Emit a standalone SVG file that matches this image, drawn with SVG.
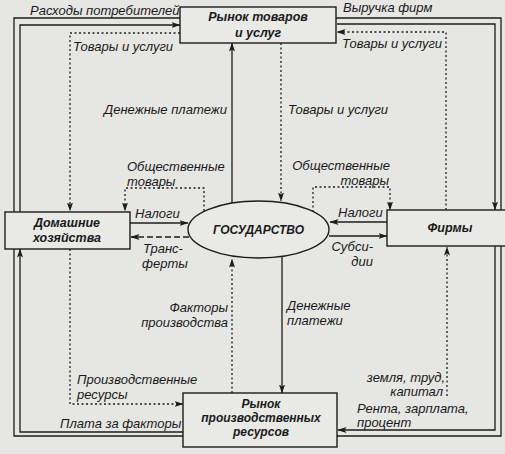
<svg xmlns="http://www.w3.org/2000/svg" width="505" height="454" viewBox="0 0 505 454">
<defs>
<marker id="ah" markerWidth="9" markerHeight="6" refX="8.5" refY="3" orient="auto" markerUnits="userSpaceOnUse">
<path d="M0,0 L9,3 L0,6 L2,3 Z" fill="#1c1c1c"/>
</marker>
</defs>
<style>
.bg{fill:#e6e6e3}
.box{fill:#e9e9e6;stroke:#1c1c1c;stroke-width:1.4}
.s{fill:none;stroke:#1c1c1c;stroke-width:1.3}
.d{fill:none;stroke:#1c1c1c;stroke-width:1.3;stroke-dasharray:2 2.5}
.t{fill:none;stroke:#1c1c1c;stroke-width:1.3;stroke-dasharray:6 3}
.a{marker-end:url(#ah)}
.lb{font-family:"Liberation Sans",Arial,sans-serif;font-style:italic;font-size:13px;fill:#1a1a1a}
.nd{font-family:"Liberation Sans",Arial,sans-serif;font-style:italic;font-weight:bold;font-size:12.5px;fill:#1a1a1a;text-anchor:middle}
.e{text-anchor:end}
</style>
<rect class="bg" x="0" y="0" width="505" height="454"/>
<g id="connectors">
<path class="s" d="M183,436 H14 V18 H180"/>
<path class="s" d="M336,18 H501 V436 H337"/>
<path class="s a" d="M20,212 V25 H180"/>
<path class="s a" d="M337,24 H495 V210"/>
<path class="s a" d="M495,246 V430 H338"/>
<path class="s a" d="M183,432 H20 V249"/>
<path class="s a" d="M232,203 V43"/>
<path class="s a" d="M282,257 V393"/>
<path class="s a" d="M130,223 H188"/>
<path class="t a" d="M189,237 H131"/>
<path class="s a" d="M387,222 H330"/>
<path class="s a" d="M329,236 H387"/>
<path class="d a" d="M180,33 H70 V211"/>
<path class="d a" d="M446,210 V32 H337"/>
<path class="d a" d="M281,43 V201"/>
<path class="d a" d="M204,211 V188 H125 V211"/>
<path class="d a" d="M313,212 V187 H390 V210"/>
<path class="d a" d="M232,393 V259"/>
<path class="d a" d="M70,249 V404 H183"/>
<path class="d a" d="M447,396 V247"/>
</g>
<g id="labels">
<text class="lb" x="30" y="15">Расходы потребителей</text>
<text class="lb" x="343" y="12">Выручка фирм</text>
<text class="lb" x="73" y="51">Товары и услуги</text>
<text class="lb" x="342" y="48">Товары и услуги</text>
<text class="lb e" x="227" y="114">Денежные платежи</text>
<text class="lb" x="288" y="114">Товары и услуги</text>
<text class="lb" x="127" y="171">Общественные</text>
<text class="lb" x="127" y="186">товары</text>
<text class="lb e" x="390" y="170">Общественные</text>
<text class="lb e" x="389" y="185">товары</text>
<text class="lb" x="135" y="218">Налоги</text>
<text class="lb" x="143" y="253">Транс-</text>
<text class="lb" x="142" y="268">ферты</text>
<text class="lb" x="338" y="217">Налоги</text>
<text class="lb e" x="373" y="251">Субси-</text>
<text class="lb e" x="373" y="266">дии</text>
<text class="lb e" x="228" y="312">Факторы</text>
<text class="lb e" x="228" y="327">производства</text>
<text class="lb" x="287" y="310">Денежные</text>
<text class="lb" x="287" y="325">платежи</text>
<text class="lb" x="77" y="384">Производственные</text>
<text class="lb" x="77" y="399">ресурсы</text>
<text class="lb" x="60" y="428">Плата за факторы</text>
<text class="lb e" x="445" y="382">земля, труд,</text>
<text class="lb e" x="443" y="396">капитал</text>
<text class="lb" x="357" y="413">Рента, зарплата,</text>
<text class="lb" x="357" y="427">процент</text>
</g>
<g id="node-product-market">
<rect class="box" x="180" y="7" width="156" height="36"/>
<text class="nd" x="258" y="21">Рынок товаров</text>
<text class="nd" x="258" y="37">и услуг</text>
</g>
<g id="node-households">
<rect class="box" x="5" y="212" width="125" height="37"/>
<text class="nd" x="67" y="227">Домашние</text>
<text class="nd" x="67" y="242">хозяйства</text>
</g>
<g id="node-firms">
<rect class="box" x="387" y="210" width="122" height="36"/>
<text class="nd" x="450" y="232">Фирмы</text>
</g>
<g id="node-government">
<ellipse class="box" cx="258.5" cy="229.5" rx="70.5" ry="28.5"/>
<text class="nd" x="258.5" y="234" style="font-size:12px">ГОСУДАРСТВО</text>
</g>
<g id="node-resource-market">
<rect class="box" x="183" y="393" width="154" height="54"/>
<text class="nd" x="261" y="408" style="font-size:12px">Рынок</text>
<text class="nd" x="261" y="422" style="font-size:12px">производственных</text>
<text class="nd" x="261" y="436" style="font-size:12px">ресурсов</text>
</g>
</svg>
